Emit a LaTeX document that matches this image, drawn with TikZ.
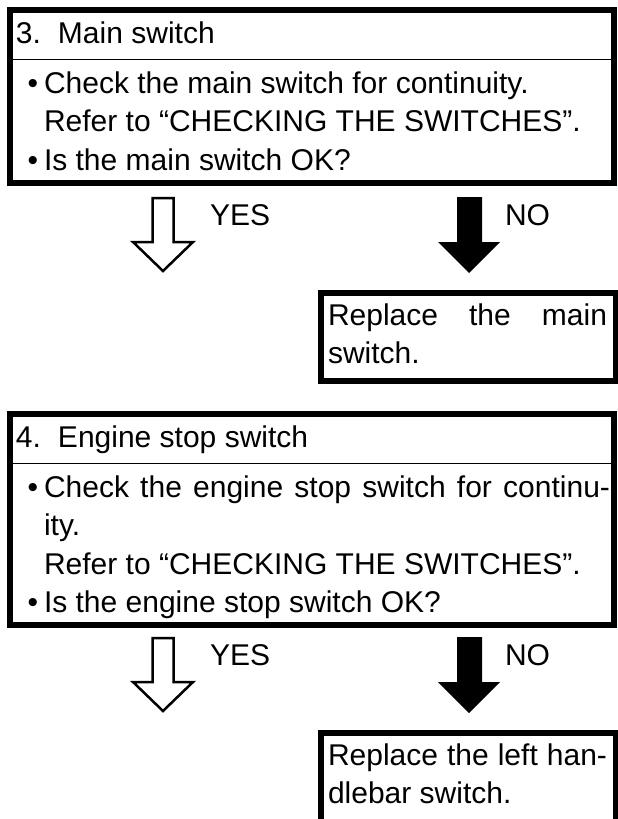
\documentclass[tikz,border=0pt]{standalone}
\usepackage{fontspec}
\setmainfont{Liberation Sans}
\tikzset{
  boxline/.style={line width=6pt},
  sepline/.style={line width=1.6pt},
  txt/.style={inner sep=0pt, outer sep=0pt, anchor=base west, font=\fontsize{30}{38.5}\selectfont},
  bul/.style={txt, anchor=base},
  para/.style={txt, text width=#1, align=justify},
  whitearrow/.style={draw, line width=2.5pt, fill=white, line join=miter},
  blackarrow/.style={fill=black},
}
\begin{document}
\begin{tikzpicture}[x=1pt,y=-1pt]
\useasboundingbox (0,0) rectangle (618,819);
\clip (0,0) rectangle (618,819);

% ---------- Step 3 ----------
\draw[boxline] (10,9.5) rectangle (614,183);
\draw[sepline] (10,59.5) -- (614,59.5);
\node[txt] (t3) at (16,43) {3.\hspace{17pt}Main switch};
\node[bul] (b3a) at (33,93) {•};
\node[para=566pt] (p3a) at (44,93) {Check the main switch for continuity.\\Refer to “CHECKING THE SWITCHES”.};
\node[bul] (b3b) at (33,170) {•};
\node[para=566pt] (p3b) at (44,170) {Is the main switch OK?};

\draw[whitearrow] (152.5,198) -- (173.5,198) -- (173.5,242) -- (193,242) -- (163,271) -- (133,242) -- (152.5,242) -- cycle;
\fill[blackarrow] (457,197) -- (482,197) -- (482,242) -- (500,242) -- (469,273) -- (438,242) -- (457,242) -- cycle;
\node[txt] (yes3) at (210,225) {YES};
\node[txt] (no3) at (505,225) {NO};

\draw[boxline] (320.5,292.5) rectangle (615.5,380.5);
\node[para=279pt] (r3) at (328,325) {Replace the main\linebreak switch.};

% ---------- Step 4 ----------
\draw[boxline] (10,413.5) rectangle (614,625);
\draw[sepline] (10,463.5) -- (614,463.5);
\node[txt] (t4) at (16,447) {4.\hspace{17pt}Engine stop switch};
\node[bul] (b4a) at (33,497) {•};
\node[para=566pt] (p4a) at (44,497) {Check the engine stop switch for continu-\linebreak ity.\\Refer to “CHECKING THE SWITCHES”.};
\node[bul] (b4b) at (33,612.5) {•};
\node[para=566pt] (p4b) at (44,612.5) {Is the engine stop switch OK?};

\draw[whitearrow] (152.5,638) -- (173.5,638) -- (173.5,682) -- (193,682) -- (163,711) -- (133,682) -- (152.5,682) -- cycle;
\fill[blackarrow] (457,637) -- (482,637) -- (482,682) -- (500,682) -- (469,713) -- (438,682) -- (457,682) -- cycle;
\node[txt] (yes4) at (210,665) {YES};
\node[txt] (no4) at (505,665) {NO};

\draw[boxline] (320.5,732.5) rectangle (615.5,830);
\node[para=279pt] (r4) at (328,765) {Replace the left han-\linebreak dlebar switch.};
\end{tikzpicture}
\end{document}
